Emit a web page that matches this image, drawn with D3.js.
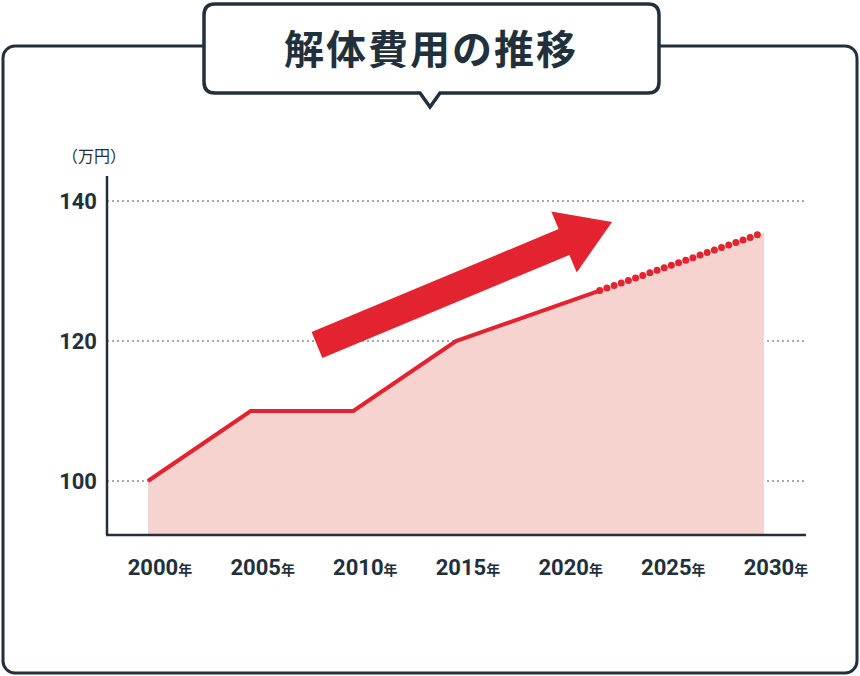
<!DOCTYPE html>
<html><head><meta charset="utf-8">
<script src="https://cdn.jsdelivr.net/npm/d3@7"></script>
<style>body{margin:0;background:#fff}svg{display:block;font-family:"Noto Sans CJK JP","Noto Sans",sans-serif}</style>
</head><body><svg id="c" width="860" height="676"></svg>
<script>
// data
const years=[2000,2005,2010,2015,2022];
const costs=[100,110,110,120,127.2];
const forecastYears=[2022,2030];
const forecastCosts=[127.2,135.5];
const yTicks=[100,120,140];
const xTicks=[2000,2005,2010,2015,2020,2025,2030];

const svg=d3.select('#c');
const ink='#22303c', red='#e3232f';

// frame
svg.append('rect').attr('x',3).attr('y',46).attr('width',854).attr('height',627).attr('rx',12)
  .attr('fill','#fff').attr('stroke',ink).attr('stroke-width',3);
// title bubble
svg.append('path').attr('d','M215,4 H648 Q659,4 659,15 V82 Q659,93 648,93 H440 L430,107 L420,93 H215 Q204,93 204,82 V15 Q204,4 215,4 Z')
  .attr('fill','#fff').attr('stroke',ink).attr('stroke-width',3.5);
svg.append('text').attr('x',431).attr('y',64).attr('text-anchor','middle')
  .attr('font-size',40).attr('font-weight',700).attr('fill',ink).attr('letter-spacing',2).text('解体費用の推移');

const x=d3.scaleLinear().domain([2000,2030]).range([148,764]);
const y=d3.scaleLinear().domain([100,140]).range([481,201]);
const yBase=535;

// grid
svg.selectAll('.g').data(yTicks).enter().append('line')
  .attr('x1',107).attr('x2',805).attr('y1',d=>y(d)).attr('y2',d=>y(d))
  .attr('stroke','#555').attr('stroke-width',1).attr('stroke-dasharray','2 3');

// area
const allY=years.concat(forecastYears.slice(1)), allC=costs.concat(forecastCosts.slice(1));
const pts=allY.map((d,i)=>[d,allC[i]]);
svg.append('path').datum(pts)
  .attr('d',d3.area().x(d=>x(d[0])).y0(yBase).y1(d=>y(d[1])))
  .attr('fill','#f6d3cf');

// axes
svg.append('line').attr('x1',107).attr('x2',107).attr('y1',176).attr('y2',yBase).attr('stroke',ink).attr('stroke-width',2.5);
svg.append('line').attr('x1',106).attr('x2',806).attr('y1',yBase).attr('y2',yBase).attr('stroke',ink).attr('stroke-width',2.5);

svg.selectAll('.yt').data(yTicks).enter().append('text')
  .attr('x',97).attr('y',d=>y(d)+8).attr('text-anchor','end')
  .attr('font-family','Roboto,sans-serif').attr('font-weight',700).attr('font-size',22).attr('fill',ink).text(d=>d);
svg.append('text').attr('x',62).attr('y',162).attr('font-size',16).attr('fill',ink).text('（万円）');

const xt=svg.selectAll('.xt').data(xTicks).enter().append('text')
  .attr('x',d=>x(d)+12).attr('y',575).attr('text-anchor','middle').attr('fill',ink);
xt.append('tspan').attr('font-family','Roboto,sans-serif').attr('font-weight',700).attr('font-size',22).text(d=>d);
xt.append('tspan').attr('font-weight',700).attr('font-size',14).text('年');

// lines
const line=d3.line().x(d=>x(d[0])).y(d=>y(d[1]));
svg.append('path').datum(years.map((d,i)=>[d,costs[i]])).attr('d',line)
  .attr('fill','none').attr('stroke',red).attr('stroke-width',4).attr('stroke-linejoin','miter');
svg.append('path').datum(forecastYears.map((d,i)=>[d,forecastCosts[i]])).attr('d',line)
  .attr('fill','none').attr('stroke',red).attr('stroke-width',7).attr('stroke-linecap','round')
  .attr('stroke-dasharray','0 7.6');

// big arrow
const x0=317,y0=345,x1=612,y1=222;
const ang=Math.atan2(y1-y0,x1-x0)*180/Math.PI;
const L=Math.hypot(x1-x0,y1-y0);
svg.append('path').attr('transform',`translate(${x0},${y0}) rotate(${ang})`)
  .attr('d',`M0,-14 H${L-52} V-33 L${L},0 L${L-52},33 V14 H0 Z`).attr('fill',red);
</script></body></html>
